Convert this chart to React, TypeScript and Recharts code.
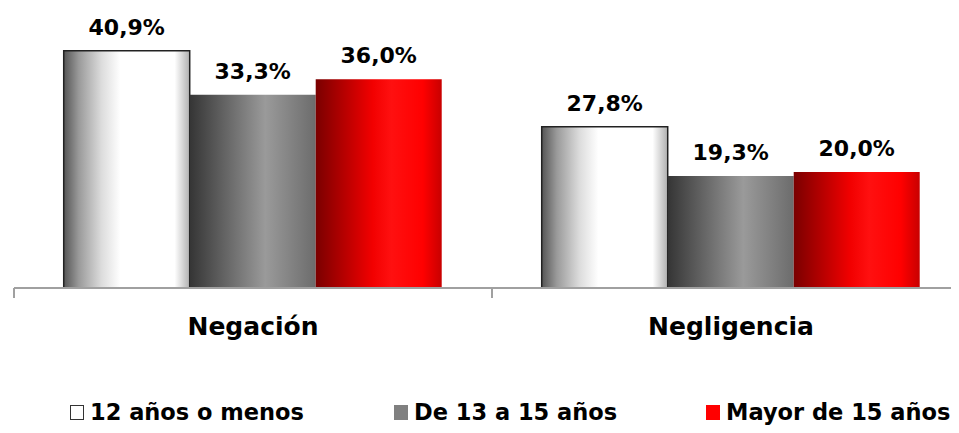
import React from "react";
import { BarChart, Bar, XAxis, YAxis, LabelList, Legend } from "recharts";

const categories = ["Negación", "Negligencia"];
const seriesNames = ["12 años o menos", "De 13 a 15 años", "Mayor de 15 años"];
const menos12 = [40.9, 27.8];
const de13a15 = [33.3, 19.3];
const mayor15 = [36.0, 20.0];

const data = categories.map((name, i) => ({
  name,
  a: menos12[i],
  b: de13a15[i],
  c: mayor15[i],
}));

const FONT = "'DejaVu Sans', sans-serif";

const fmt = (v: any) => Number(v).toFixed(1).replace(".", ",") + "%";

const CategoryTick = (props: any) => {
  const { x, y, payload } = props;
  const half = payload && payload.offset ? payload.offset : 239;
  return (
    <g>
      <line x1={x - half} y1={y} x2={x - half} y2={y + 10} stroke="#a0a0a0" strokeWidth={2} />
      <text
        x={x}
        y={y + 47}
        textAnchor="middle"
        fontFamily={FONT}
        fontWeight="bold"
        fontSize={25}
        fill="#000"
      >
        {payload.value}
      </text>
    </g>
  );
};

const legendBoxes = [
  { left: 62, fill: "#ffffff", border: "#333" },
  { left: 386, fill: "#808080", border: "#808080" },
  { left: 698, fill: "#ff0000", border: "#ff0000" },
];

const CustomLegend = () => (
  <div style={{ position: "relative", width: 951, height: 67 }}>
    {seriesNames.map((s, i) => (
      <div
        key={s}
        style={{
          position: "absolute",
          left: legendBoxes[i].left,
          top: 41,
          display: "flex",
          alignItems: "center",
          fontFamily: FONT,
          fontWeight: "bold",
          fontSize: 22.5,
          color: "#000",
          whiteSpace: "nowrap",
        }}
      >
        <span
          style={{
            display: "inline-block",
            width: 12,
            height: 13,
            background: legendBoxes[i].fill,
            border: `1.5px solid ${legendBoxes[i].border}`,
            marginRight: 6,
          }}
        />
        {s}
      </div>
    ))}
  </div>
);

export default function App() {
  return (
    <div style={{ width: 951, height: 417, overflow: "hidden" }}>
      <BarChart
        width={970}
        height={417}
        data={data}
        margin={{ top: 19, right: 8, left: 6, bottom: 0 }}
        barCategoryGap="10.4%"
        barGap={0}
      >
        <defs>
          <linearGradient id="gWhite" x1="0" y1="0" x2="1" y2="0">
            <stop offset="0%" stopColor="#555555" />
            <stop offset="12%" stopColor="#9a9a9a" />
            <stop offset="30%" stopColor="#dcdcdc" />
            <stop offset="45%" stopColor="#ffffff" />
            <stop offset="88%" stopColor="#ffffff" />
            <stop offset="100%" stopColor="#b0b0b0" />
          </linearGradient>
          <linearGradient id="gGray" x1="0" y1="0" x2="1" y2="0">
            <stop offset="0%" stopColor="#353535" />
            <stop offset="60%" stopColor="#9a9a9a" />
            <stop offset="100%" stopColor="#6c6c6c" />
          </linearGradient>
          <linearGradient id="gRed" x1="0" y1="0" x2="1" y2="0">
            <stop offset="0%" stopColor="#7a0000" />
            <stop offset="45%" stopColor="#f20000" />
            <stop offset="60%" stopColor="#ff1010" />
            <stop offset="85%" stopColor="#ff0000" />
            <stop offset="100%" stopColor="#c80000" />
          </linearGradient>
        </defs>
        <XAxis
          dataKey="name"
          axisLine={{ stroke: "#a0a0a0", strokeWidth: 2 }}
          tickLine={false}
          tickSize={0}
          tickMargin={0}
          height={70}
          interval={0}
          tick={<CategoryTick />}
        />
        <YAxis hide domain={[0, 45]} />
        <Legend verticalAlign="bottom" height={67} content={<CustomLegend />} wrapperStyle={{ left: 0, width: 951 }} />
        <Bar dataKey="a" name={seriesNames[0]} fill="url(#gWhite)" stroke="#222" strokeWidth={1.5} isAnimationActive={false}>
          <LabelList dataKey="a" position="top" offset={16} formatter={fmt} fill="#000" fontFamily={FONT} fontWeight="bold" fontSize={22} />
        </Bar>
        <Bar dataKey="b" name={seriesNames[1]} fill="url(#gGray)" isAnimationActive={false}>
          <LabelList dataKey="b" position="top" offset={16} formatter={fmt} fill="#000" fontFamily={FONT} fontWeight="bold" fontSize={22} />
        </Bar>
        <Bar dataKey="c" name={seriesNames[2]} fill="url(#gRed)" isAnimationActive={false}>
          <LabelList dataKey="c" position="top" offset={16} formatter={fmt} fill="#000" fontFamily={FONT} fontWeight="bold" fontSize={22} />
        </Bar>
      </BarChart>
    </div>
  );
}
